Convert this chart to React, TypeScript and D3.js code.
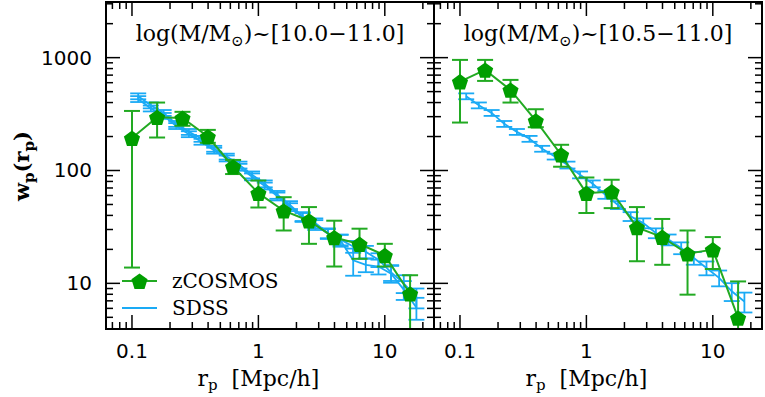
import React from "react";
import * as d3 from "d3";

// zCOSMOS bins (0.2 dex apart)
const zcosR = [0.1, 0.158, 0.251, 0.398, 0.631, 1.0, 1.585, 2.512, 3.981, 6.31, 10.0, 15.85];
const zcosLeft = [194, 297, 292, 200, 108, 63, 44, 35.9, 25.5, 22.3, 17.7, 8.1];
const zcosLeftHi = [337, 400, 331, 229, 124, 81.5, 58, 47.4, 35.9, 30.5, 22.4, 11.8];
const zcosLeftLo = [13.8, 196, 249, 176, 93, 47, 29.4, 22.4, 14.1, 16.5, 14.1, 3];
const zcosRight = [614, 778, 517, 276, 138, 63, 65, 31.3, 25.7, 18.3, 19.9, 4.94];
const zcosRightHi = [955, 955, 635, 349, 169, 86.7, 82.8, 47.4, 37.2, 29.4, 25.7, 10.4];
const zcosRightLo = [266, 622, 400, 242, 108, 42, 46.4, 15.7, 14.6, 7.94, 13.4, 2];

// SDSS bins (0.1 dex apart)
const sdssR = [0.112, 0.141, 0.178, 0.224, 0.282, 0.355, 0.447, 0.562, 0.708, 0.891, 1.122, 1.413,
  1.778, 2.239, 2.818, 3.548, 4.467, 5.623, 7.079, 8.913, 11.22, 14.13, 17.78];
const sdssRight = [455, 378, 324, 259, 220, 191, 156, 133, 112, 91.6, 76.3, 61, 49.5, 39.2, 34.2,
  27.9, 24.4, 20.6, 16.8, 13.7, 11.2, 8.5, 6.9];
const sdssLeftA = [455, 378, 324, 259, 220, 191, 156, 133, 112, 91.6, 76.3, 61, 49.5, 39.2, 34.2,
  27.9, 24.4, 21.2, 19, 16.2, 12.5, 10, 7.5];
const sdssLeftB = [430, 355, 305, 248, 210, 180, 150, 128, 107, 88, 73, 59, 47.5, 38.5, 33,
  27.5, 24, 16, 14.6, 14.1, 12.2, 8.8, 6.1];
const sdssErr = [0.06, 0.06, 0.06, 0.06, 0.06, 0.06, 0.06, 0.06, 0.07, 0.07, 0.07, 0.08, 0.08, 0.09,
  0.1, 0.1, 0.11, 0.12, 0.13, 0.14, 0.16, 0.18, 0.2];
const sdssErrB = [0.06, 0.06, 0.06, 0.06, 0.06, 0.06, 0.06, 0.06, 0.07, 0.07, 0.07, 0.08, 0.08, 0.09,
  0.1, 0.1, 0.12, 0.27, 0.14, 0.15, 0.17, 0.19, 0.22];

const xMajor = [0.1, 1, 10];
const xMinor = [0.07, 0.08, 0.09, 0.2, 0.3, 0.4, 0.5, 0.6, 0.7, 0.8, 0.9, 2, 3, 4, 5, 6, 7, 8, 9, 20];
const yMajor = [10, 100, 1000];
const yMinor = [5, 6, 7, 8, 9, 20, 30, 40, 50, 60, 70, 80, 90, 200, 300, 400, 500, 600, 700, 800, 900, 2000, 3000];

const green = "#009e00";
const greenLine = "#22aa22";
const blue = "#1aaaf5";
const serif = "DejaVu Serif";
const sans = "DejaVu Sans";

const W = 765, H = 397;
const plotTop = 2, plotBottom = 329, panelW = 328;

const y = d3.scaleLog().domain([3.94, 3112]).range([plotBottom, plotTop]);

const pentagon = (cx: number, cy: number, r: number) => {
  const pts = d3.range(5).map((k) => {
    const a = (-90 + 72 * k) * Math.PI / 180;
    return [cx + r * Math.cos(a), cy + r * Math.sin(a) + 1];
  });
  return "M" + pts.map((p) => p.join(",")).join("L") + "Z";
};

type Sdss = { w: number[]; err: number[] };

const Panel = ({ left, id, title, zc, zcHi, zcLo, sdss, showY, legend }:
  { left: number; id: string; title: string; zc: number[]; zcHi: number[]; zcLo: number[]; sdss: Sdss[]; showY: boolean; legend: boolean }) => {
  const x = d3.scaleLog().domain([0.0623, 24.5]).range([left, left + panelW]);
  const line = d3.line<[number, number]>().x((d) => x(d[0])).y((d) => y(d[1]));
  const cap = 8;
  return (
    <g>
      <defs>
        <clipPath id={id}>
          <rect x={left} y={plotTop} width={panelW} height={plotBottom - plotTop} />
        </clipPath>
      </defs>
      <g clipPath={`url(#${id})`}>
        {sdss.map((s, j) => (
          <g key={j} stroke={blue} strokeWidth={1.8} fill="none">
            <path d={line(sdssR.map((r, i) => [r, s.w[i]]) as [number, number][]) || ""} />
            {sdssR.map((r, i) => {
              const hi = s.w[i] * (1 + s.err[i]);
              const lo = s.w[i] * (1 - s.err[i]);
              return (
                <g key={i}>
                  <line x1={x(r)} x2={x(r)} y1={y(hi)} y2={y(lo)} />
                  <line x1={x(r) - cap} x2={x(r) + cap} y1={y(hi)} y2={y(hi)} />
                  <line x1={x(r) - cap} x2={x(r) + cap} y1={y(lo)} y2={y(lo)} />
                </g>
              );
            })}
          </g>
        ))}
        <g stroke={greenLine} strokeWidth={2} fill="none">
          <path d={line(zcosR.map((r, i) => [r, zc[i]]) as [number, number][]) || ""} />
          {zcosR.map((r, i) => (
            <g key={i}>
              <line x1={x(r)} x2={x(r)} y1={y(zcHi[i])} y2={y(zcLo[i])} />
              <line x1={x(r) - cap} x2={x(r) + cap} y1={y(zcHi[i])} y2={y(zcHi[i])} />
              <line x1={x(r) - cap} x2={x(r) + cap} y1={y(zcLo[i])} y2={y(zcLo[i])} />
            </g>
          ))}
        </g>
        {zcosR.map((r, i) => (
          <path key={i} d={pentagon(x(r), y(zc[i]), 8.5)} fill={green} />
        ))}
      </g>
      {/* ticks on all four sides */}
      <g stroke="#000" strokeWidth={1.5}>
        {xMajor.map((v) => (
          <g key={"xM" + v}>
            <line x1={x(v)} x2={x(v)} y1={plotBottom} y2={plotBottom - 14} />
            <line x1={x(v)} x2={x(v)} y1={plotTop} y2={plotTop + 14} />
          </g>
        ))}
        {xMinor.map((v) => (
          <g key={"xm" + v}>
            <line x1={x(v)} x2={x(v)} y1={plotBottom} y2={plotBottom - 7} />
            <line x1={x(v)} x2={x(v)} y1={plotTop} y2={plotTop + 7} />
          </g>
        ))}
        {yMajor.map((v) => (
          <g key={"yM" + v}>
            <line x1={left} x2={left + 14} y1={y(v)} y2={y(v)} />
            <line x1={left + panelW} x2={left + panelW - 14} y1={y(v)} y2={y(v)} />
          </g>
        ))}
        {yMinor.map((v) => (
          <g key={"ym" + v}>
            <line x1={left} x2={left + 7} y1={y(v)} y2={y(v)} />
            <line x1={left + panelW} x2={left + panelW - 7} y1={y(v)} y2={y(v)} />
          </g>
        ))}
      </g>
      <rect x={left} y={plotTop} width={panelW} height={plotBottom - plotTop} fill="none" stroke="#000" strokeWidth={2} />
      {xMajor.map((v) => (
        <text key={"xl" + v} x={x(v)} y={358} textAnchor="middle" fontFamily={sans} fontSize={20}>{String(v)}</text>
      ))}
      {showY && yMajor.map((v) => (
        <text key={"yl" + v} x={92} y={y(v) + 7} textAnchor="end" fontFamily={sans} fontSize={20}>{String(v)}</text>
      ))}
      <text x={x(1)} y={386} textAnchor="middle" fontFamily={serif} fontSize={22}>
        r<tspan dy={4} fontSize={15}>p</tspan><tspan dy={-4}>{"\u00a0\u00a0[Mpc/h]"}</tspan>
      </text>
      <text x={left + panelW / 2} y={41} textAnchor="middle" fontFamily={serif} fontSize={22}>
        log(M/M<tspan dy={5} fontSize={15}>⊙</tspan><tspan dy={-5}>){"~"}[{title}]</tspan>
      </text>
      {legend && (
        <g>
          <line x1={122} x2={157} y1={281} y2={281} stroke={greenLine} strokeWidth={2} />
          <path d={pentagon(139.5, 281, 8.5)} fill={green} />
          <text x={172} y={288} fontFamily={serif} fontSize={20}>zCOSMOS</text>
          <line x1={122} x2={157} y1={308} y2={308} stroke={blue} strokeWidth={1.8} />
          <text x={172} y={315} fontFamily={serif} fontSize={20}>SDSS</text>
        </g>
      )}
    </g>
  );
};

export default function App() {
  return (
    <svg width={W} height={H} style={{ position: "absolute", left: 0, top: 0, background: "#fff" }}>
      <Panel left={106} id="clipL" title="10.0−11.0" zc={zcosLeft} zcHi={zcosLeftHi} zcLo={zcosLeftLo}
        sdss={[{ w: sdssLeftA, err: sdssErr }, { w: sdssLeftB, err: sdssErrB }]} showY legend />
      <Panel left={434} id="clipR" title="10.5−11.0" zc={zcosRight} zcHi={zcosRightHi} zcLo={zcosRightLo}
        sdss={[{ w: sdssRight, err: sdssErr }]} showY={false} legend={false} />
      <text transform="translate(29,166) rotate(-90)" textAnchor="middle" fontFamily={serif} fontSize={21} fontWeight="bold">
        w<tspan dy={5} fontSize={15}>p</tspan><tspan dy={-5}>(r</tspan><tspan dy={5} fontSize={15}>p</tspan><tspan dy={-5}>)</tspan>
      </text>
    </svg>
  );
}
